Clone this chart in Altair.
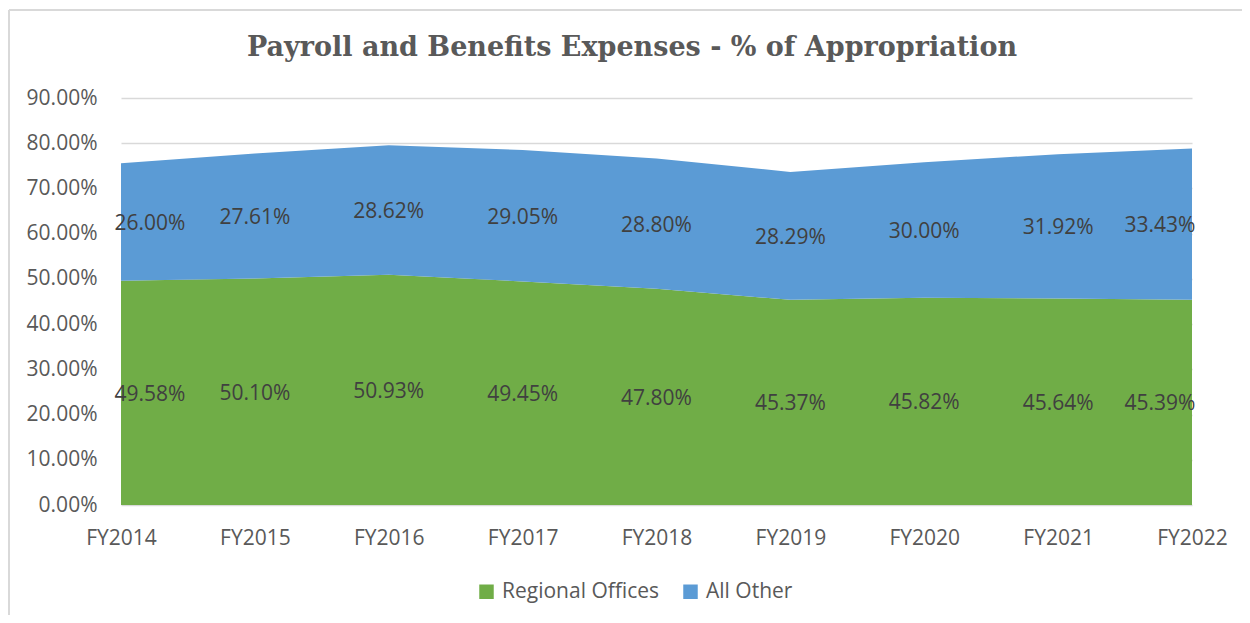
import altair as alt
import pandas as pd

years = ["FY2014", "FY2015", "FY2016", "FY2017", "FY2018", "FY2019", "FY2020", "FY2021", "FY2022"]
regional = [49.58, 50.10, 50.93, 49.45, 47.80, 45.37, 45.82, 45.64, 45.39]
other = [26.00, 27.61, 28.62, 29.05, 28.80, 28.29, 30.00, 31.92, 33.43]
series = ["Regional Offices", "All Other"]
colors = ["#70AD47", "#5B9BD5"]
title_text = "Payroll and Benefits Expenses - % of Appropriation"

rows = []
for i, y in enumerate(years):
    base = 0.0
    for k, (name, vals) in enumerate([(series[0], regional), (series[1], other)]):
        v = vals[i] / 100.0
        rows.append({
            "year": y, "series": name, "order": k, "value": v,
            "mid": base + v / 2.0, "label": f"{vals[i]:.2f}%", "idx": i,
        })
        base += v
df = pd.DataFrame(rows)

W, H = 1071, 407
font = "Open Sans"
fs = 21

x_enc = alt.X("year:O", sort=years, scale=alt.Scale(type="point", padding=0),
              axis=alt.Axis(title=None, labelAngle=0, labelFontSize=fs, labelColor="#595959",
                            labelFont=font, ticks=False, domain=False, labelPadding=22,
                            labelFlush=False))
y_scale = alt.Scale(domain=[0, 0.9], nice=False)

area = alt.Chart(df).mark_area(opacity=1).encode(
    x=x_enc,
    y=alt.Y("value:Q", stack="zero", scale=y_scale,
            axis=alt.Axis(title=None, format=".2%", values=[i / 10 for i in range(10)],
                          labelFontSize=fs, labelColor="#595959", labelFont=font,
                          ticks=False, domain=False, labelPadding=24,
                          gridColor="#D9D9D9", gridWidth=1.5)),
    color=alt.Color("series:N", sort=series,
                    scale=alt.Scale(domain=series, range=colors),
                    legend=alt.Legend(title=None, orient="none", direction="horizontal",
                                      legendX=355, legendY=483, symbolType="square",
                                      symbolSize=210, symbolStrokeWidth=0, symbolOpacity=1,
                                      labelFontSize=fs, labelColor="#595959", labelFont=font,
                                      columnPadding=20, labelOffset=5)),
    order=alt.Order("order:Q"),
)

def labels(cond, dx):
    return alt.Chart(df).transform_filter(cond).mark_text(
        fontSize=fs, font=font, color="#404040", dx=dx, dy=2
    ).encode(
        x=alt.X("year:O", sort=years),
        y=alt.Y("mid:Q", scale=y_scale),
        text="label:N",
    )

lab_first = labels("datum.idx == 0", 29)
lab_mid = labels("datum.idx > 0 && datum.idx < 8", 0)
lab_last = labels("datum.idx == 8", -32)

title = alt.Chart(pd.DataFrame({"t": [title_text]})).mark_text(
    font="DejaVu Serif", fontSize=27, fontWeight="bold", color="#595959",
    align="center", baseline="middle"
).encode(x=alt.value(511), y=alt.value(-50), text="t:N")

border_left = alt.Chart(df).mark_rule(color="#D9D9D9", strokeWidth=2).encode(
    x=alt.value(-112), y=alt.value(-88), y2=alt.value(H + 120))
border_top = alt.Chart(df).mark_rule(color="#D9D9D9", strokeWidth=2).encode(
    x=alt.value(-112), x2=alt.value(W + 60), y=alt.value(-88))

chart = alt.layer(area, lab_first, lab_mid, lab_last, title, border_left, border_top).properties(
    width=W, height=H,
    autosize=alt.AutoSizeParams(type="none"),
    padding={"left": 113, "top": 90, "right": 50, "bottom": 110},
).configure_view(stroke=None)

chart.save("out.html", embed_options={"renderer": "svg", "actions": False})
